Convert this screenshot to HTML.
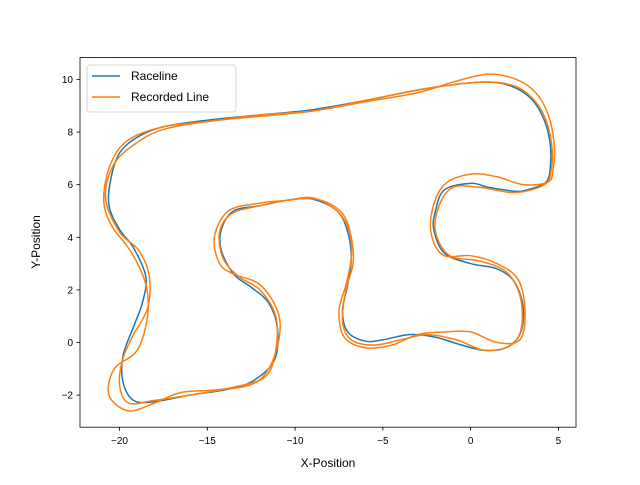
<!DOCTYPE html>
<html><head><meta charset="utf-8"><style>
body{margin:0;background:#fff;}
svg text{font-family:"Liberation Sans","DejaVu Sans",sans-serif;font-size:10px;fill:#000}
</style></head><body>
<svg id="chart" width="640" height="480" xmlns="http://www.w3.org/2000/svg">
<rect width="640" height="480" fill="#fff"/>
<defs><clipPath id="clip"><rect x="80" y="57.6" width="496" height="369.6"/></clipPath></defs>
<g id="plot" clip-path="url(#clip)"></g>
<rect x="80" y="57.6" width="496" height="369.6" fill="none" stroke="#000" stroke-width="0.8"/>
<g id="axes"></g>
<text x="328" y="467" text-anchor="middle" style="font-size:12px">X-Position</text>
<text transform="translate(40,242) rotate(-90)" text-anchor="middle" style="font-size:12px">Y-Position</text>
<g>
<rect x="87" y="65" width="149" height="47" rx="3" fill="#fff" fill-opacity="0.8" stroke="#ccc" stroke-width="0.8"/>
<line x1="92" y1="76" x2="120" y2="76" stroke="#1f77b4" stroke-width="1.5"/>
<text x="131" y="80" style="font-size:12px">Raceline</text>
<line x1="92" y1="97" x2="120" y2="97" stroke="#ff7f0e" stroke-width="1.5"/>
<text x="131" y="101" style="font-size:12px">Recorded Line</text>
</g>
</svg>
<script>
const xTicks=[-20,-15,-10,-5,0,5];
const yTicks=[-2,0,2,4,6,8,10];
const raceline=[[1,9.9],[2.3,9.75],[3.4,9.3],[4.1,8.6],[4.5,7.7],[4.55,6.8],[4.3,6.1],[3.2,5.8],[2.5,5.75],[1,5.9],[0,6.05],[-1.5,5.8],[-2,5],[-2.1,4.3],[-1.5,3.4],[0,3.0],[1.5,2.8],[2.5,2.3],[3,1.3],[2.8,0.3],[2,-0.2],[0.8,-0.3],[-0.5,-0.1],[-2,0.2],[-3.5,0.3],[-5,0.1],[-6,0.05],[-7,0.4],[-7.3,1.2],[-7,2.2],[-6.8,3.2],[-7,4.2],[-7.6,5.0],[-9,5.45],[-10.5,5.4],[-12,5.2],[-13.5,5.0],[-14.2,4.3],[-14.2,3.5],[-13.5,2.6],[-12.5,2.1],[-11.5,1.5],[-11,0.5],[-11.2,-0.7],[-12.5,-1.5],[-14,-1.8],[-16,-2.0],[-18,-2.25],[-19.2,-2.2],[-19.8,-1.5],[-19.8,-0.5],[-19.2,0.6],[-18.7,1.5],[-18.5,2.5],[-19.2,3.6],[-20,4.3],[-20.6,5.2],[-20.5,6.2],[-20,7.2],[-19,7.8],[-17.5,8.2],[-15,8.45],[-12,8.65],[-9,8.85],[-6,9.2],[-3,9.6],[-1,9.8]];
const recordedLapA=[[1,10.2],[2.6,10.0],[3.7,9.5],[4.4,8.7],[4.75,7.6],[4.7,6.6],[4.4,6.1],[3,6.0],[1.5,6.3],[0,6.4],[-1.5,6],[-2.2,5],[-2.2,4],[-1.5,3.3],[0,3.3],[1.5,3],[2.7,2.4],[3.1,1.2],[2.8,0.1],[1.5,0],[0,0.4],[-1.5,0.4],[-3,0.3],[-4.5,-0.1],[-6,-0.2],[-7.2,0.2],[-7.5,1.2],[-7.1,2.2],[-6.8,3.2],[-6.9,4.2],[-7.6,5.0],[-9,5.5],[-10.5,5.4],[-12,5.3],[-13.8,5],[-14.6,4],[-14.3,3],[-13.5,2.6],[-12,2.2],[-11,1.2],[-10.9,0.2],[-11.5,-1],[-12.5,-1.6],[-14.5,-1.8],[-16.5,-1.9],[-18,-2.3],[-19.5,-2.6],[-20.6,-2],[-20.3,-1],[-19,-0.3],[-18.4,1],[-18.5,2.2],[-19.3,3.4],[-20.5,4.5],[-20.9,5.5],[-20.5,6.8],[-19.5,7.7],[-17.5,8.2],[-15,8.4],[-12,8.65],[-9,8.8],[-6,9.15],[-3,9.5],[-1,9.9]];
const recordedLapB=[[1,9.9],[2.5,9.75],[3.5,9.3],[4.2,8.6],[4.6,7.6],[4.6,6.6],[4.2,6.0],[2.5,5.7],[0.5,5.9],[-1,5.9],[-1.8,5.2],[-2,4.2],[-1.2,3.3],[0.5,3.1],[2,2.7],[2.8,1.8],[2.9,0.6],[2.3,-0.1],[0.8,-0.3],[-0.8,0.1],[-2.5,0.3],[-4,0.1],[-5.5,-0.1],[-6.8,0.1],[-7.3,0.8],[-7.1,2.0],[-6.7,3.0],[-6.8,4.0],[-7.3,4.9],[-8.5,5.4],[-10,5.45],[-12,5.2],[-13.6,4.9],[-14.3,4.2],[-14.1,3.2],[-13.2,2.5],[-12,2.0],[-11.1,1.0],[-11.1,-0.3],[-11.7,-1.3],[-13.5,-1.7],[-16,-2.0],[-18,-2.2],[-19.5,-2.3],[-20,-1.6],[-19.8,-0.6],[-19.2,0.3],[-18.4,1.3],[-18.3,2.5],[-18.9,3.5],[-20,4.2],[-20.8,5.5],[-20.3,6.8],[-19,7.6],[-17.5,8.1],[-15,8.4],[-12,8.6],[-9,8.8],[-6,9.2],[-3,9.6],[-1,9.8]];

const NS="http://www.w3.org/2000/svg";
const X0=80,X1=576,Y0=427.2,Y1=57.6,xmin=-22.25,xmax=6.0,ymin=-3.22,ymax=10.83;
function sx(v){return X0+(v-xmin)/(xmax-xmin)*(X1-X0);}
function sy(v){return Y0-(v-ymin)/(ymax-ymin)*(Y0-Y1);}
function closedPath(pts){
  const p=pts.map(q=>[sx(q[0]),sy(q[1])]);const n=p.length;
  let d="M"+p[0][0].toFixed(2)+","+p[0][1].toFixed(2);
  for(let i=0;i<n;i++){
    const a=p[(i-1+n)%n],b=p[i],c=p[(i+1)%n],e=p[(i+2)%n];
    const c1=[b[0]+(c[0]-a[0])/6,b[1]+(c[1]-a[1])/6],c2=[c[0]-(e[0]-b[0])/6,c[1]-(e[1]-b[1])/6];
    d+="C"+c1.join(",")+" "+c2.join(",")+" "+c[0].toFixed(2)+","+c[1].toFixed(2);
  }
  return d+"Z";
}
const plot=document.getElementById('plot'),axes=document.getElementById('axes');
function addLine(pts,color,name){
  const el=document.createElementNS(NS,'path');
  el.setAttribute('d',closedPath(pts));el.setAttribute('fill','none');
  el.setAttribute('stroke',color);el.setAttribute('stroke-width','1.5');
  
  
  plot.appendChild(el);
}
addLine(raceline,'#1f77b4','raceline');
addLine(recordedLapA,'#ff7f0e','recorded-line-lap-1');
addLine(recordedLapB,'#ff7f0e','recorded-line-lap-2');
xTicks.forEach(t=>{
  const x=sx(t);
  const l=document.createElementNS(NS,'line');
  l.setAttribute('x1',x);l.setAttribute('x2',x);l.setAttribute('y1',Y0);l.setAttribute('y2',Y0+3.5);l.setAttribute('stroke','#000');l.setAttribute('stroke-width','0.8');
  
  
  axes.appendChild(l);
  const tx=document.createElementNS(NS,'text');
  tx.setAttribute('x',x);tx.setAttribute('y',Y0+17);tx.setAttribute('text-anchor','middle');
  tx.textContent=t<0?'\u2212'+(-t):String(t);
  
  
  axes.appendChild(tx);
});
yTicks.forEach(t=>{
  const y=sy(t);
  const l=document.createElementNS(NS,'line');
  l.setAttribute('x1',X0-3.5);l.setAttribute('x2',X0);l.setAttribute('y1',y);l.setAttribute('y2',y);l.setAttribute('stroke','#000');l.setAttribute('stroke-width','0.8');
  
  
  axes.appendChild(l);
  const tx=document.createElementNS(NS,'text');
  tx.setAttribute('x',X0-7);tx.setAttribute('y',y+3.5);tx.setAttribute('text-anchor','end');
  tx.textContent=t<0?'\u2212'+(-t):String(t);
  
  
  axes.appendChild(tx);
});
</script>
</body></html>
